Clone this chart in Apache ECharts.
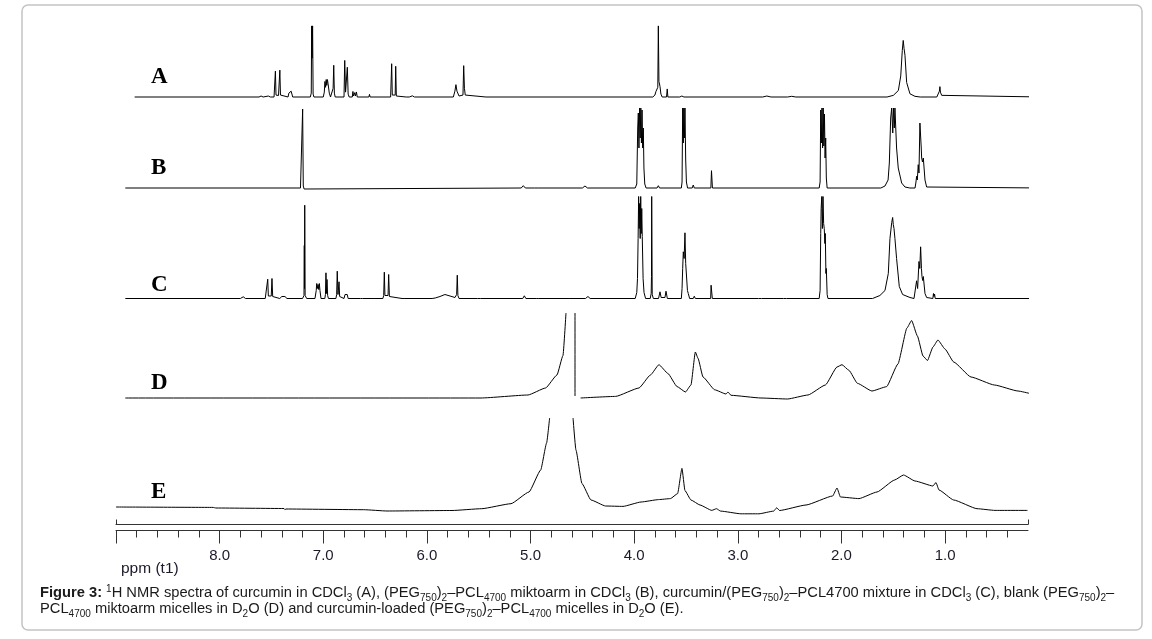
<!DOCTYPE html>
<html>
<head>
<meta charset="utf-8">
<title>1H NMR spectra</title>
<script src="https://cdn.jsdelivr.net/npm/echarts/dist/echarts.min.js"></script>
<style>
  html, body { margin: 0; padding: 0; background: #fff; }
  #chart { width: 1152px; height: 639px; }
</style>
</head>
<body>
<div id="chart"></div>
<script>
// ppm scale of the bottom ruler
const majorTicks = [9.0, 8.0, 7.0, 6.0, 5.0, 4.0, 3.0, 2.0, 1.0];
const tickLabels = [8.0, 7.0, 6.0, 5.0, 4.0, 3.0, 2.0, 1.0];
const minorTicks = [8.8, 8.6, 8.4, 8.2, 7.8, 7.6, 7.4, 7.2, 6.8, 6.6, 6.4, 6.2, 5.8, 5.6, 5.4, 5.2,
  4.8, 4.6, 4.4, 4.2, 3.8, 3.6, 3.4, 3.2, 2.8, 2.6, 2.4, 2.2, 1.8, 1.6, 1.4, 1.2, 0.8, 0.6, 0.4];
const spectrumLabels = ["A", "B", "C", "D", "E"];

// [ppm, intensity]
const specA = [
  [8.82, 0], [7.62, 0], [7.60, 1], [7.58, 0], [7.53, 1], [7.51, 0],
  [7.475, 0], [7.466, 2], [7.462, 26.7], [7.456, 2], [7.432, 1.5], [7.424, 2.5], [7.419, 27.7], [7.413, 2], [7.40, 0],
  [7.34, 0], [7.332, 4], [7.326, 6], [7.318, 5], [7.310, 6], [7.302, 4], [7.295, 0],
  [7.125, 0], [7.116, 4], [7.112, 73.3], [7.108, 40], [7.103, 73.3], [7.098, 3], [7.09, 0],
  [7.00, 0], [6.990, 5], [6.984, 16], [6.978, 10], [6.972, 18], [6.966, 12], [6.960, 18], [6.954, 14], [6.948, 16], [6.942, 4], [6.93, 0],
  [6.912, 0], [6.905, 9], [6.899, 32.7], [6.893, 4], [6.885, 0],
  [6.80, 0], [6.793, 37.7], [6.785, 5], [6.768, 30.7], [6.760, 3], [6.75, 0],
  [6.72, 0], [6.714, 5.7], [6.708, 1], [6.696, 4.5], [6.690, 1], [6.680, 5.2], [6.672, 0],
  [6.56, 0], [6.554, 2.7], [6.548, 0],
  [6.35, 0], [6.345, 2], [6.340, 34.3], [6.334, 2], [6.306, 2], [6.301, 31.7], [6.295, 1], [6.28, 0],
  [6.20, 0], [6.19, 1.5], [6.17, 0], [6.14, 1.2], [6.12, 0],
  [5.745, 0], [5.73, 6], [5.72, 12.7], [5.71, 6], [5.69, 1], [5.652, 2], [5.645, 32.3], [5.638, 9], [5.630, 2], [5.62, 0],
  [5.43, 0], [5.423, 1.7], [5.415, 0],
  [3.82, 0], [3.80, 2], [3.790, 5.7], [3.780, 4], [3.772, 10], [3.767, 73.3], [3.761, 16], [3.751, 11], [3.742, 3], [3.73, 0],
  [3.688, 0], [3.681, 8.3], [3.675, 0],
  [3.56, 0], [3.54, 1], [3.52, 0],
  [2.76, 0], [2.72, 1], [2.68, 0],
  [2.52, 0], [2.48, 0.7], [2.44, 0],
  [1.56, 0], [1.499, 1.7], [1.451, 6.7], [1.428, 21.7], [1.413, 48], [1.404, 58.3], [1.396, 50], [1.387, 43], [1.371, 15], [1.339, 3.3], [1.291, 0.7], [1.24, 0],
  [1.08, 0], [1.066, 1.7], [1.055, 6], [1.050, 10.7], [1.045, 5], [1.033, 1.7], [1.02, 0],
  [0.068, 0]
];

const specB = [
  [8.91, 0], [7.22, 0], [7.206, 2], [7.199, 79], [7.193, 2], [7.185, -1], [7.17, 0],
  [5.09, 0], [5.07, 2.3], [5.05, 0], [4.96, 0], [4.941, 1.3], [4.92, 0],
  [4.50, 0], [4.475, 2], [4.45, 0],
  [3.99, 0], [3.975, 4], [3.966, 60], [3.960, 75], [3.954, 40], [3.948, 80], [3.942, 50], [3.936, 80], [3.930, 45], [3.924, 78], [3.918, 40], [3.912, 60], [3.906, 20], [3.898, 4], [3.885, 0],
  [3.78, 0], [3.767, 2.3], [3.755, 0],
  [3.545, 0], [3.538, 6], [3.532, 80], [3.526, 45], [3.521, 80], [3.515, 50], [3.510, 80], [3.503, 28], [3.496, 6], [3.485, 0],
  [3.44, 0], [3.430, 3], [3.42, 0],
  [3.26, 0], [3.254, 17.3], [3.249, 17], [3.245, 0],
  [2.215, 0], [2.206, 6], [2.200, 78], [2.194, 45], [2.188, 80], [2.182, 40], [2.176, 80], [2.170, 42], [2.164, 74], [2.158, 30], [2.152, 50], [2.146, 10], [2.138, 0],
  [1.62, 0], [1.580, 2], [1.550, 8], [1.538, 25], [1.525, 70], [1.515, 80], [1.505, 55], [1.498, 80], [1.490, 60], [1.484, 80], [1.468, 40], [1.452, 20], [1.419, 5], [1.387, 1], [1.34, 0],
  [1.29, 0], [1.281, 6], [1.275, 11.7], [1.268, 8], [1.259, 23.3], [1.252, 15], [1.243, 65], [1.236, 65.7], [1.230, 40], [1.226, 30], [1.218, 26], [1.210, 30], [1.194, 8], [1.178, 1], [1.16, 0],
  [0.068, 0]
];

const specC = [
  [8.91, 0], [7.80, 0], [7.772, 1.7], [7.75, 0],
  [7.56, 0], [7.545, 2], [7.536, 19.3], [7.530, 2.5], [7.502, 2.5], [7.495, 20], [7.488, 2], [7.47, 0],
  [7.42, 0], [7.40, 2], [7.386, 3.3], [7.37, 2], [7.35, 0],
  [7.20, 0], [7.186, 3], [7.183, 53], [7.181, 10], [7.179, 93.3], [7.175, 3], [7.16, 0],
  [7.08, 0], [7.068, 8], [7.063, 15], [7.057, 10], [7.050, 14], [7.044, 9], [7.038, 15], [7.032, 8], [7.022, 0],
  [6.985, 0], [6.979, 4], [6.974, 25.7], [6.969, 5], [6.964, 19], [6.958, 3], [6.95, 0],
  [6.878, 0], [6.871, 4], [6.865, 27.3], [6.858, 4], [6.848, 16.7], [6.842, 2], [6.835, 0],
  [6.80, 0], [6.790, 4], [6.782, 2], [6.769, 4], [6.76, 0],
  [6.64, 0], [6.63, 1.5], [6.62, 0], [6.53, 0], [6.52, 1.5], [6.51, 0],
  [6.425, 0], [6.417, 3], [6.411, 26.3], [6.405, 3], [6.375, 3], [6.369, 24], [6.362, 2], [6.35, 0],
  [6.24, 0], [6.23, 1], [6.22, 0],
  [5.95, 0], [5.92, 0.5], [5.874, 2], [5.826, 4], [5.777, 2.5], [5.729, 1], [5.713, 4], [5.707, 23.3], [5.701, 3], [5.69, 0],
  [5.51, 0], [5.498, 1], [5.485, 0],
  [5.075, 0], [5.060, 2.7], [5.045, 0], [4.945, 0], [4.931, 2], [4.92, 0],
  [4.62, 0], [4.613, 1], [4.605, 0],
  [4.47, 0], [4.446, 2], [4.425, 0],
  [3.99, 0], [3.975, 6], [3.968, 20], [3.962, 60], [3.957, 102], [3.952, 70], [3.947, 95], [3.942, 60], [3.937, 102], [3.932, 65], [3.927, 90], [3.922, 62], [3.914, 20], [3.905, 6], [3.89, 0],
  [3.845, 0], [3.836, 5], [3.833, 22], [3.831, 102], [3.826, 4], [3.815, 0],
  [3.765, 0], [3.751, 6.7], [3.74, 1], [3.703, 1], [3.693, 7.3], [3.68, 0],
  [3.545, 0], [3.538, 10], [3.532, 30], [3.526, 46.7], [3.518, 40], [3.510, 65.7], [3.503, 35], [3.493, 35], [3.486, 8], [3.478, 5], [3.465, 0],
  [3.43, 0], [3.420, 2.3], [3.41, 0],
  [3.262, 0], [3.258, 13.3], [3.254, 12], [3.250, 13.3], [3.246, 0],
  [2.80, 0], [2.786, 1], [2.77, 0], [2.56, 0], [2.545, 1], [2.53, 0],
  [2.215, 0], [2.206, 8], [2.200, 65], [2.196, 90], [2.190, 102], [2.184, 70], [2.178, 102], [2.172, 75], [2.166, 70], [2.160, 55], [2.156, 65], [2.150, 25], [2.146, 30], [2.138, 4], [2.13, 0],
  [1.70, 0], [1.629, 3], [1.580, 8], [1.548, 25], [1.532, 60], [1.515, 76], [1.506, 81], [1.500, 74], [1.493, 70], [1.484, 60], [1.468, 40], [1.442, 12], [1.410, 4], [1.339, 1], [1.30, 0],
  [1.291, 2], [1.275, 17.7], [1.265, 10], [1.252, 37], [1.244, 30], [1.236, 51.7], [1.228, 30], [1.223, 22], [1.216, 18], [1.210, 22], [1.194, 5], [1.178, 1], [1.16, 0],
  [1.118, 0], [1.112, 5], [1.107, 2], [1.102, 4.5], [1.095, 0],
  [0.068, 0]
];

// D and E: broad micelle signals, water peak cut off at the top
const specD = [
  [8.91, 0], [5.478, 0], [5.025, 3], [4.855, 10], [4.745, 23], [4.687, 42.5], [4.658, 85],
  [4.62, null],
  [4.571, 85], [4.571, 2],
  [4.55, null],
  [4.517, 0], [4.179, 1.6], [3.954, 10], [3.843, 23], [3.761, 33.3], [3.674, 24.5], [3.587, 11.5], [3.505, 6],
  [3.452, 13], [3.410, 46], [3.384, 39.7], [3.336, 21], [3.223, 8.2], [3.114, 4], [3.095, 6], [3.066, 2.7],
  [2.777, 0], [2.521, -1], [2.323, 3], [2.155, 13], [2.043, 31], [1.995, 33.3], [1.928, 27.7], [1.846, 14.7],
  [1.706, 7], [1.565, 11.3], [1.455, 34], [1.368, 70], [1.323, 77.5], [1.267, 62], [1.213, 42], [1.170, 37.5],
  [1.117, 51], [1.069, 58], [1.001, 49], [0.917, 36], [0.750, 21], [0.524, 13], [0.297, 7], [0.181, 4.5]
];

const specE = [
  [9.0, 7], [8.064, 6.6], [8.035, 6], [7.379, 5.5], [7.37, 4.3], [7.36, 5], [6.610, 4.3], [6.385, 3],
  [5.758, 3.5], [5.471, 5.3], [5.189, 10.3], [5.015, 22], [4.902, 44], [4.845, 71], [4.816, 96],
  [4.70, null],
  [4.590, 96], [4.562, 64], [4.504, 30.5], [4.417, 14], [4.276, 8], [4.108, 7.6], [3.934, 12], [3.764, 14.4],
  [3.650, 15.4], [3.581, 20.4], [3.539, 45.6], [3.510, 23.4], [3.452, 14], [3.365, 9], [3.251, 3.6], [3.206, 5.3],
  [3.166, 2.9], [2.970, 0.2], [2.796, 0.2], [2.654, 2.9], [2.625, 6.2], [2.597, 3.5], [2.342, 9], [2.085, 18],
  [2.043, 26], [2.010, 17], [1.831, 15.4], [1.657, 22], [1.487, 34], [1.401, 39], [1.290, 33], [1.117, 28],
  [1.088, 31.5], [1.059, 24], [0.917, 14], [0.692, 5.3], [0.519, 3.6], [0.205, 3.6]
];

const spectra = [specA, specB, specC, specD, specE];
const baselines = [97, 188, 298.5, 398, 514]; // pixel row of each trace's zero line
const labelY = [77, 168, 285, 383, 492];

const chart = echarts.init(document.getElementById("chart"), null, { renderer: "canvas" });

const H = 639;
const grids = baselines.map((b) => ({ left: 116, right: 124, bottom: H - b, height: 100 }));
grids.push({ left: 116, right: 124, bottom: H - 524.5, height: 20 }); // ruler

const hiddenX = baselines.map((b, i) => ({
  type: "value", gridIndex: i, min: 0.2, max: 9.0, inverse: true, show: false
}));
const hiddenY = grids.map((g, i) => ({
  type: "value", gridIndex: i, min: 0, max: 100, show: false
}));

const axisColor = "#333";
const rulerAxes = [
  {
    // thin upper line with little end marks
    type: "value", gridIndex: 5, min: 0.2, max: 9.0, inverse: true, position: "bottom",
    axisLine: { show: true, lineStyle: { color: axisColor, width: 1 } },
    axisTick: { show: true, inside: true, length: 5, customValues: [9.0, 0.2], lineStyle: { color: axisColor } },
    axisLabel: { show: false }, splitLine: { show: false }
  },
  {
    type: "value", gridIndex: 5, min: 0.2, max: 9.0, inverse: true, position: "bottom", offset: 6,
    axisLine: { show: true, lineStyle: { color: axisColor, width: 1 } },
    axisTick: { show: true, length: 7, customValues: minorTicks, lineStyle: { color: axisColor } },
    axisLabel: { show: false }, splitLine: { show: false }
  },
  {
    type: "value", gridIndex: 5, min: 0.2, max: 9.0, inverse: true, position: "bottom", offset: 6,
    axisLine: { show: false },
    axisTick: { show: true, length: 13, customValues: majorTicks, lineStyle: { color: axisColor } },
    axisLabel: {
      show: true, customValues: tickLabels, margin: 18,
      fontFamily: "Liberation Sans", fontSize: 15, color: "#1a1a2a",
      formatter: (v) => Number(v).toFixed(1)
    },
    splitLine: { show: false }
  }
];

const series = spectra.map((d, i) => ({
  type: "line",
  xAxisIndex: i,
  yAxisIndex: i,
  data: d,
  symbol: "none",
  clip: false,
  connectNulls: false,
  smooth: i >= 3 ? 0.15 : false,
  smoothMonotone: "x",
  lineStyle: { color: "#000", width: 1 },
  silent: true,
  animation: false
}));

// caption lines, rich text for sub/superscripts
const cap1 = "{b|Figure 3:} {sup|1}H NMR spectra of curcumin in CDCl{sub|3} (A), (PEG{sub|750}){sub|2}–PCL{sub|4700} miktoarm in CDCl{sub|3} (B), curcumin/(PEG{sub|750}){sub|2}–PCL4700 mixture in CDCl{sub|3} (C), blank (PEG{sub|750}){sub|2}–";
const cap2 = "PCL{sub|4700} miktoarm micelles in D{sub|2}O (D) and curcumin-loaded (PEG{sub|750}){sub|2}–PCL{sub|4700} micelles in D{sub|2}O (E).";
const capLH = 22;
const capRich = {
  b: { fontWeight: "bold", fontSize: 14.7, lineHeight: capLH, fontFamily: "Liberation Sans" },
  sub: { fontSize: 10, lineHeight: capLH, verticalAlign: "bottom", fontFamily: "Liberation Sans" },
  sup: { fontSize: 10, lineHeight: capLH, verticalAlign: "top", padding: [3, 0, 0, 0], fontFamily: "Liberation Sans" }
};
const capText = (str, y) => ({
  type: "text", left: 40, top: y,
  style: {
    text: str, rich: capRich, fill: "#1a1a1a",
    fontFamily: "Liberation Sans", fontSize: 14.7, lineHeight: capLH
  }
});

const graphics = [
  {
    type: "rect", shape: { x: 22, y: 5, width: 1120, height: 625, r: 6 },
    style: { fill: "none", stroke: "#c4c4c4", lineWidth: 1.5 }, z: -1
  },
  {
    type: "text", left: 121, top: 561,
    style: { text: "ppm (t1)", fontFamily: "Liberation Sans", fontSize: 15.5, fill: "#1a1a2a" }
  },
  capText(cap1, 581.5),
  capText(cap2, 597.5)
];
spectrumLabels.forEach((t, i) => {
  graphics.push({
    type: "text", x: 151, y: labelY[i],
    style: {
      text: t, fontFamily: "Liberation Serif", fontWeight: "bold", fontSize: 23,
      fill: "#000", verticalAlign: "middle", align: "left"
    }
  });
});

chart.setOption({
  animation: false,
  backgroundColor: "#fff",
  grid: grids,
  xAxis: hiddenX.concat(rulerAxes),
  yAxis: hiddenY,
  series: series,
  graphic: graphics
});
</script>
</body>
</html>
